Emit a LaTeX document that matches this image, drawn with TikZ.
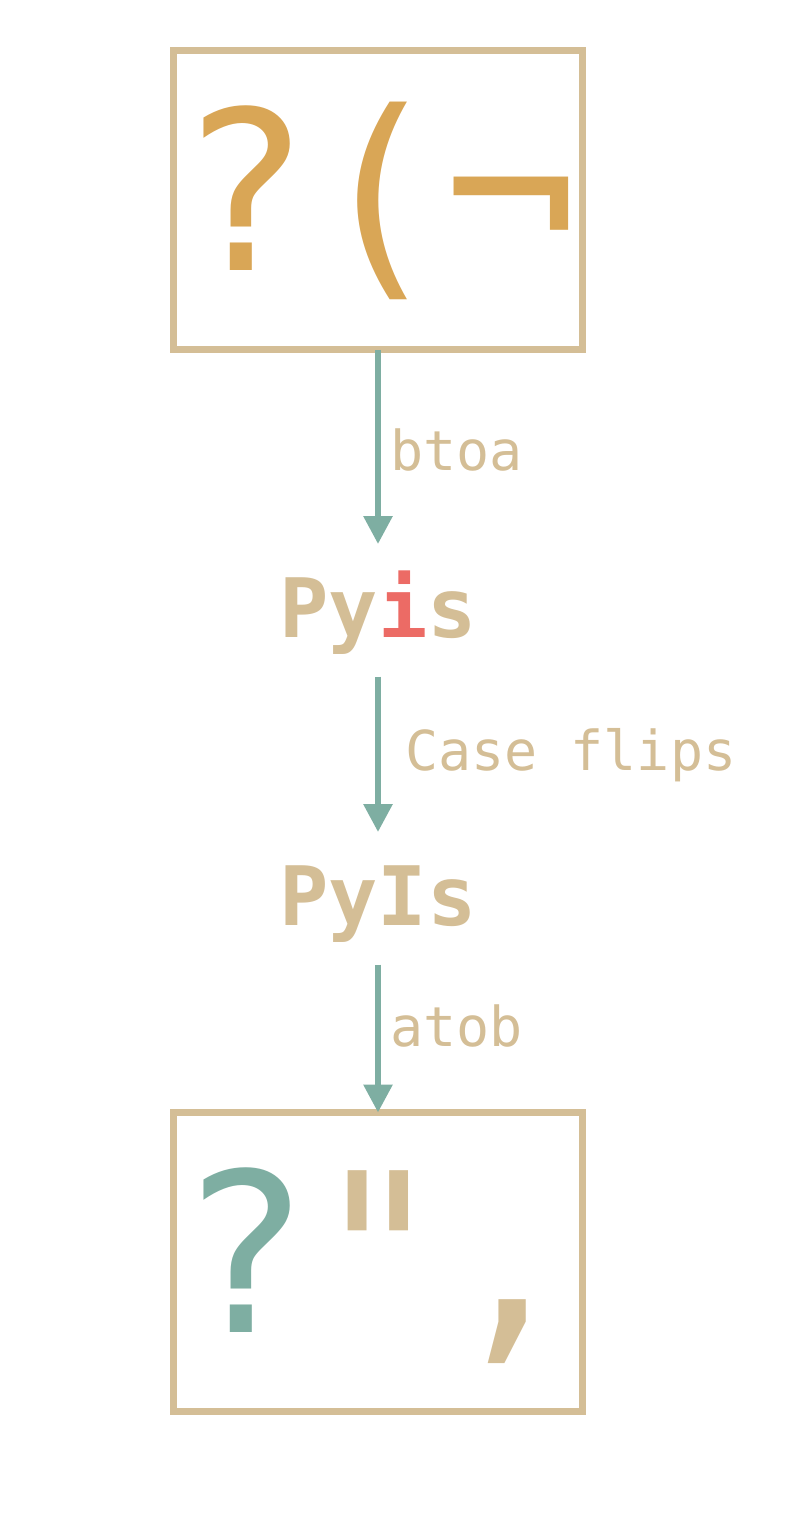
\documentclass[tikz,border=0pt]{standalone}
\usepackage{fontspec}
\setmonofont{DejaVu Sans Mono}
\usetikzlibrary{arrows.meta}
\definecolor{tanc}{HTML}{D4BE96}
\definecolor{orangec}{HTML}{D9A656}
\definecolor{tealc}{HTML}{7EAEA2}
\definecolor{redc}{HTML}{EC6B65}
\begin{document}
\begin{tikzpicture}[x=1pt,y=1pt,
  frame/.style={draw=tanc, line width=7.3pt, minimum width=409pt, minimum height=299pt, inner sep=0pt, outer sep=0pt},
  glyphs/.style={font=\ttfamily\fontsize{222}{222}\selectfont, inner sep=0pt, anchor=base},
  word/.style={font=\ttfamily\bfseries\fontsize{82}{82}\selectfont, text=tanc, inner sep=0pt, outer sep=0pt, anchor=base, text height=93pt, text depth=39.5pt},
  lab/.style={font=\ttfamily\fontsize{55}{55}\selectfont, text=tanc, inner sep=0pt, anchor=base west},
  flow/.style={draw=tealc, line width=6pt, -{Triangle[width=28pt,length=28pt]}}]
\useasboundingbox (0,0) rectangle (808,-1524);
\node[frame] (top) at (378,-200.3) {};
\node[glyphs, text=orangec] (toptext) at (378,-270.7) {?(¬};
\node[word] (pyis) at (378,-637) {Py{\color{redc}i}s};
\node[word] (pyIs) at (378,-925) {PyIs};
\node[frame] (bot) at (378,-1262) {};
\node[glyphs, text=tanc] (bottext) at (378,-1332.7) {{\color{tealc}?}",};
\draw[flow] (top.south) -- (pyis.north);
\draw[flow] (pyis.south) -- (pyIs.north);
\draw[flow] (pyIs.south) -- (bot.north);
\node[lab] (l1) at (390,-470) {btoa};
\node[lab] (l2) at (405,-770) {Case flips};
\node[lab] (l3) at (390,-1046) {atob};
\end{tikzpicture}
\end{document}
